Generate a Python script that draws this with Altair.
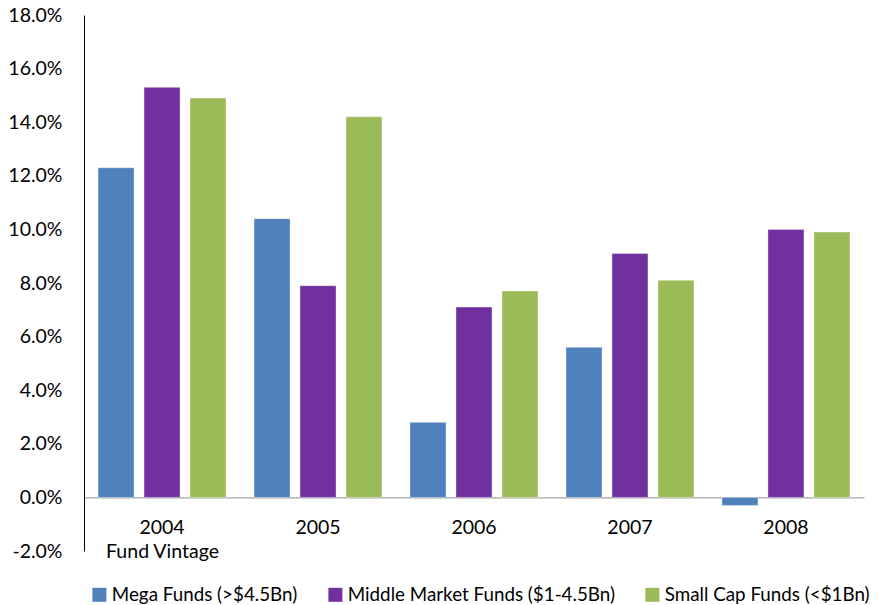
import altair as alt
import pandas as pd

vintages = ["2004", "2005", "2006", "2007", "2008"]
series = ["Mega Funds (>$4.5Bn)", "Middle Market Funds ($1-4.5Bn)", "Small Cap Funds (<$1Bn)"]
mega = [12.3, 10.4, 2.8, 5.6, -0.3]
middle = [15.3, 7.9, 7.1, 9.1, 10.0]
small = [14.9, 14.2, 7.7, 8.1, 9.9]
colors = ["#4F81BD", "#7030A0", "#9BBB59"]

rows = []
for vals, s in zip([mega, middle, small], series):
    for v, val in zip(vintages, vals):
        rows.append({"vintage": v, "series": s, "value": val / 100})
df = pd.DataFrame(rows)

FONT = "Lato"
FS = 19.5
LFS = 18.8
W, H = 780, 536

chart = alt.Chart(df).mark_bar(stroke="#ffffff", strokeWidth=0.6, strokeOpacity=0.6).encode(
    x=alt.X("vintage:N", sort=vintages,
            scale=alt.Scale(paddingInner=0.1795, paddingOuter=0.09),
            axis=alt.Axis(orient="bottom", offset=-53.6, ticks=False, tickSize=0, labelAngle=0,
                          labelPadding=36, labelBaseline="alphabetic",
                          labelFontSize=FS, labelFont=FONT, labelColor="#000",
                          domainColor="#8c8c8c", domainWidth=1,
                          title="Fund Vintage", titleFont=FONT, titleFontSize=FS,
                          titleFontWeight="normal", titleColor="#000",
                          titleX=78, titleY=60, titleAlign="center", titleBaseline="alphabetic")),
    xOffset=alt.XOffset("series:N", sort=series,
                        scale=alt.Scale(paddingInner=0.217, paddingOuter=0)),
    y=alt.Y("value:Q", scale=alt.Scale(domain=[-0.02, 0.18], nice=False),
            axis=alt.Axis(format=".1%", values=[-0.02, 0, 0.02, 0.04, 0.06, 0.08, 0.10, 0.12, 0.14, 0.16, 0.18],
                          labelExpr="replace(datum.label, '\u2212', '-')",
                          ticks=False, tickSize=0, grid=False, labelPadding=22, labelFontSize=FS,
                          labelFont=FONT, labelColor="#000", domainColor="#000", domainWidth=1,
                          title=None)),
    color=alt.Color("series:N", sort=series,
                    scale=alt.Scale(domain=series, range=colors),
                    legend=alt.Legend(orient="none", legendX=6, legendY=570, direction="horizontal",
                                      title=None, symbolType="square", symbolSize=196,
                                      symbolStrokeWidth=0, labelFontSize=LFS, labelFont=FONT,
                                      labelColor="#000", labelOffset=3, columnPadding=28,
                                      labelLimit=400, padding=0)),
).properties(
    width=W, height=H,
    padding={"left": 84, "top": 15, "right": 16, "bottom": 54},
    autosize=alt.AutoSizeParams(type="none"),
).configure_view(stroke=None)

chart.save("out.html", embed_options={"renderer": "svg", "actions": False})
